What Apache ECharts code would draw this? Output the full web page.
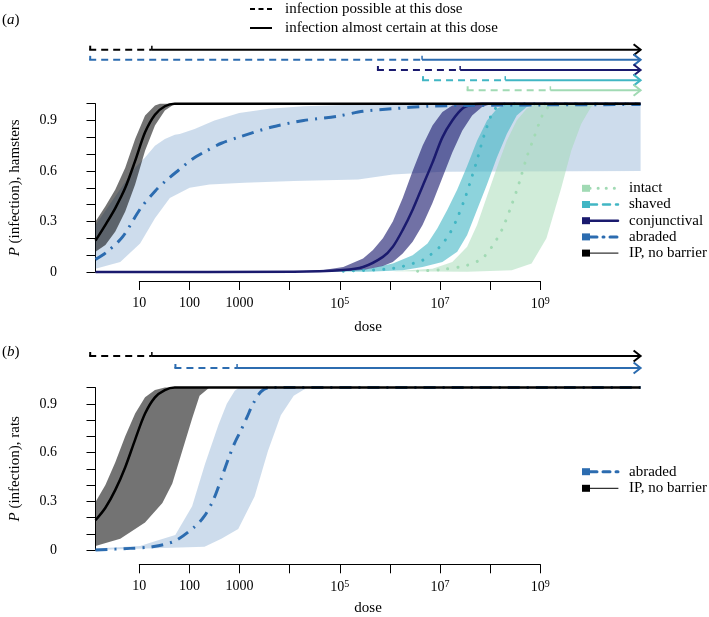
<!DOCTYPE html>
<html><head><meta charset="utf-8">
<script src="https://cdn.jsdelivr.net/npm/echarts@6/dist/echarts.min.js"></script>
<style>html,body{margin:0;padding:0;background:#fff}#c{width:709px;height:617px}</style>
</head><body><div id="c"></div>
<script>
// ---------- data (x = log10(dose)) ----------
var doseMax = 11;
var xTickLabels = ['10', '100', '1000', '', '10^5', '', '10^7', '', '10^9']; // at log10 dose 1..9
var yTickLabels = ['0', '0.3', '0.6', '0.9'];

// Panel (a) hamsters
var ipLineA = [[0,0.186],[0.2,0.28],[0.4,0.38],[0.6,0.50],[0.8,0.66],[1.0,0.83],[1.2,0.935],[1.4,0.985],[1.6,1],[11,1]];
var ipUpA = [[0,0.30],[0.2,0.39],[0.4,0.49],[0.6,0.62],[0.8,0.79],[1.0,0.93],[1.2,0.99],[1.3,1],[11,1]];
var ipLoA = [[0,0.12],[0.2,0.16],[0.4,0.24],[0.6,0.36],[0.8,0.52],[1.0,0.72],[1.2,0.87],[1.4,0.96],[1.6,1],[11,1]];

var abrLineA = [[0,0.075],[0.22,0.117],[0.55,0.21],[0.91,0.378],[1.21,0.483],[1.41,0.54],[1.68,0.606],[1.95,0.67],[2.21,0.715],[2.54,0.765],[2.88,0.80],[3.54,0.86],[4.2,0.90],[4.87,0.925],[5.4,0.955],[6.0,0.97],[6.7,0.985],[7.5,0.99],[9,0.993],[11,0.995]];
var abrUpA = [[0,0.28],[0.4,0.45],[0.8,0.62],[1.0,0.68],[1.2,0.75],[1.4,0.79],[1.6,0.815],[1.7,0.82],[2.0,0.85],[2.4,0.90],[2.9,0.945],[3.5,0.97],[4.2,0.985],[5,0.993],[6,0.995],[11,0.995]];
var abrLoA = [[0,0.02],[0.5,0.06],[0.9,0.17],[1.2,0.32],[1.5,0.44],[1.9,0.50],[2.3,0.52],[3,0.53],[4,0.54],[5.3,0.55],[6,0.58],[7,0.595],[11,0.60]];

var conjLineA = [[0,0],[4,0.002],[5.0,0.012],[5.4,0.03],[5.8,0.09],[6.0,0.15],[6.2,0.25],[6.4,0.37],[6.6,0.51],[6.8,0.65],[7.0,0.80],[7.2,0.90],[7.4,0.97],[7.6,0.995],[7.8,1],[11,1]];
var conjUpA = [[3.5,0],[4,0.003],[4.6,0.012],[5.0,0.03],[5.4,0.08],[5.6,0.13],[5.8,0.2],[6.0,0.3],[6.2,0.44],[6.4,0.6],[6.6,0.75],[6.8,0.87],[7.0,0.95],[7.2,0.99],[7.4,1],[11,1]];
var conjLoA = [[3.5,0],[5.0,0.005],[5.4,0.012],[5.8,0.035],[6.0,0.06],[6.2,0.11],[6.4,0.18],[6.6,0.28],[6.8,0.41],[7.0,0.56],[7.2,0.71],[7.4,0.84],[7.6,0.93],[7.8,0.98],[8.0,1],[11,1]];

var shavLineA = [[5.0,0.005],[5.6,0.012],[5.9,0.018],[6.15,0.03],[6.4,0.05],[6.6,0.07],[6.75,0.10],[6.95,0.15],[7.15,0.23],[7.3,0.32],[7.47,0.45],[7.6,0.57],[7.7,0.665],[7.77,0.74],[7.85,0.82],[7.92,0.88],[8.0,0.94],[8.1,0.98],[8.3,1],[11,1]];
var shavUpA = [[4.5,0.003],[5.5,0.02],[6.0,0.05],[6.4,0.1],[6.7,0.17],[6.9,0.26],[7.1,0.37],[7.3,0.49],[7.5,0.63],[7.7,0.78],[7.9,0.9],[8.1,0.97],[8.3,1],[11,1]];
var shavLoA = [[5.5,0.002],[6.2,0.01],[6.6,0.03],[7.0,0.06],[7.3,0.12],[7.5,0.22],[7.7,0.37],[7.9,0.52],[8.1,0.68],[8.3,0.82],[8.5,0.93],[8.7,0.98],[8.9,1],[11,1]];

var intLineA = [[6.5,0.005],[7.0,0.015],[7.5,0.04],[7.8,0.08],[8.0,0.15],[8.2,0.25],[8.4,0.4],[8.55,0.53],[8.7,0.68],[8.85,0.8],[9.0,0.92],[9.1,0.97],[9.3,1],[11,1]];
var intUpA = [[6.0,0.005],[6.8,0.02],[7.2,0.06],[7.5,0.15],[7.7,0.28],[7.9,0.45],[8.1,0.62],[8.3,0.78],[8.5,0.9],[8.7,0.97],[8.9,1],[11,1]];
var intLoA = [[7.5,0.002],[8.4,0.01],[8.8,0.05],[9.1,0.2],[9.4,0.5],[9.6,0.72],[9.8,0.88],[10.0,0.98],[10.1,1],[11,1]];

// arrows (a): [dashed start, solid start] in log10 dose, rows top->bottom
var arrowNamesA = ['IP, no barrier', 'abraded', 'conjunctival', 'shaved', 'intact'];
var arrowStartA = [0, 0, 5.74, 6.64, 7.53];
var arrowSolidA = [1.25, 6.64, 7.4, 8.3, 9.2];

// Panel (b) rats
var ipLineB = [[0,0.183],[0.2,0.26],[0.4,0.37],[0.6,0.51],[0.8,0.68],[1.0,0.84],[1.2,0.94],[1.4,0.985],[1.6,1],[11,1]];
var ipUpB = [[0,0.296],[0.2,0.40],[0.4,0.54],[0.6,0.70],[0.8,0.84],[1.0,0.94],[1.2,0.985],[1.4,1],[11,1]];
var ipLoB = [[0,0.024],[0.5,0.07],[1.0,0.17],[1.35,0.29],[1.55,0.41],[1.75,0.61],[1.95,0.81],[2.1,0.95],[2.3,1],[11,1]];
var abrLineB = [[0,0],[0.7,0.01],[1.15,0.02],[1.6,0.055],[2.0,0.143],[2.2,0.21],[2.38,0.31],[2.54,0.44],[2.68,0.56],[2.81,0.66],[2.94,0.74],[3.06,0.82],[3.18,0.9],[3.34,0.975],[3.5,1],[11,1]];
var abrUpB = [[0,0.01],[0.9,0.024],[1.2,0.054],[1.61,0.093],[1.95,0.27],[2.21,0.53],[2.48,0.77],[2.65,0.9],[2.81,0.98],[2.9,1],[11,1]];
var abrLoB = [[0,0],[2.2,0.02],[2.54,0.07],[2.88,0.13],[3.21,0.33],[3.48,0.61],[3.74,0.83],[4.0,0.95],[4.2,0.986],[4.3,1],[11,1]];

var arrowNamesB = ['IP, no barrier', 'abraded'];
var arrowStartB = [0, 1.7];
var arrowSolidB = [1.25, 2.95];

// ---------- styling ----------
var FONT = '"Liberation Serif","Times New Roman",serif';
var C = {ip:'#000000', abr:'#2c6cb0', conj:'#1a1a6e', shav:'#41b6c4', int:'#a1dab4'};
var BAND = {ip:'rgba(0,0,0,0.55)', abr:'rgba(44,108,176,0.24)', conj:'rgba(26,26,110,0.62)', shav:'rgba(65,182,196,0.6)', int:'rgba(161,218,180,0.5)'};
var arrowColor = {'IP, no barrier':C.ip, 'abraded':C.abr, 'conjunctival':C.conj, 'shaved':C.shav, 'intact':C.int};

var L = 89.2, W = 551.4;

function bandSeries(gi, up, lo, color, z) {
  return {type:'custom', xAxisIndex:gi, yAxisIndex:gi, silent:true, z:z, data:[0], clip:false,
    renderItem:function(params, api){
      var pts = [];
      for (var i=0;i<up.length;i++) pts.push(api.coord(up[i]));
      for (var j=lo.length-1;j>=0;j--) pts.push(api.coord(lo[j]));
      return {type:'polygon', shape:{points:pts}, style:{fill:color}};
    }};
}
function lineSeries(gi, data, color, width, dash, z, cap) {
  return {type:'line', xAxisIndex:gi, yAxisIndex:gi, data:data, showSymbol:false, silent:true, z:z,
    smooth:0.3, clip:false,
    lineStyle:{color:color, width:width, type:dash||'solid', cap:cap||'butt', join:'round'}};
}
function arrowSeries(gi, names, starts, solids) {
  var data = names.map(function(n,i){ return {value:[starts[i], solids[i], i+1, doseMax], itemStyle:{color:arrowColor[n]}}; });
  return {type:'custom', xAxisIndex:gi, yAxisIndex:gi, silent:true, clip:false, data:data,
    renderItem:function(params, api){
      var p0 = api.coord([api.value(0), api.value(2)]);
      var p1 = api.coord([api.value(1), api.value(2)]);
      var p2 = api.coord([api.value(3), api.value(2)]);
      var c = api.visual('color');
      return {type:'group', children:[
        {type:'line', shape:{x1:p0[0],y1:p0[1],x2:p1[0],y2:p1[1]}, style:{stroke:c,lineWidth:2,lineDash:[7,5]}},
        {type:'line', shape:{x1:p0[0]+1,y1:p0[1]-4,x2:p0[0]+1,y2:p0[1]}, style:{stroke:c,lineWidth:2}},
        {type:'line', shape:{x1:p1[0],y1:p1[1],x2:p2[0],y2:p2[1]}, style:{stroke:c,lineWidth:2}},
        {type:'line', shape:{x1:p1[0],y1:p1[1]-4,x2:p1[0],y2:p1[1]}, style:{stroke:c,lineWidth:1.5}},
        {type:'polyline', shape:{points:[[p2[0]-7,p2[1]-5.5],[p2[0],p2[1]],[p2[0]-7,p2[1]+5.5]]}, style:{stroke:c,lineWidth:2,fill:null}}
      ]};
    }};
}

function xDispAxis(gi) {
  return {gridIndex:gi, type:'value', min:1, max:9, interval:1, position:'bottom',
    axisLine:{show:true, onZero:false, lineStyle:{color:'#000', width:1}},
    axisTick:{show:true, length:9, lineStyle:{color:'#000', width:1}},
    splitLine:{show:false},
    axisLabel:{margin:15, fontFamily:FONT, fontSize:14, color:'#000',
      formatter:function(v){
        var s = xTickLabels[Math.round(v)-1] || '';
        if (s.indexOf('^')>0) { var p = s.split('^'); return '{b|'+p[0]+'}{s|'+p[1]+'}'; }
        return s ? '{b|'+s+'}' : '';
      },
      rich:{b:{fontFamily:FONT, fontSize:14, color:'#000'}, s:{fontFamily:FONT, fontSize:10, color:'#000', verticalAlign:'top', padding:[0,0,7,0]}}}
  };
}
function xDataAxis(gi, name, gap) {
  return {gridIndex:gi, type:'value', min:0, max:doseMax, axisLine:{show:false}, axisTick:{show:false},
    axisLabel:{show:false}, splitLine:{show:false},
    name:name, nameLocation:'middle', nameGap:gap, nameTextStyle:{fontFamily:FONT, fontSize:15, color:'#000'}};
}
function yDataAxis(gi, title) {
  return {gridIndex:gi, type:'value', min:0, max:1, interval:0.1, offset:21.5,
    axisLine:{show:true, lineStyle:{color:'#000', width:1}},
    axisTick:{show:true, length:9, lineStyle:{color:'#000'}},
    splitLine:{show:false},
    axisLabel:{margin:17, fontFamily:FONT, fontSize:14, color:'#000',
      formatter:function(v){ var s = String(+v.toFixed(1)); return yTickLabels.indexOf(s)>=0 ? s : ''; }},
    name:'{i|P} (infection), '+title, nameLocation:'middle', nameGap:51, nameRotate:90,
    nameTextStyle:{fontFamily:FONT, fontSize:15, color:'#000', rich:{i:{fontFamily:FONT, fontSize:15, fontStyle:'italic', color:'#000'}}}
  };
}
function hiddenAxis(gi, type, min, max, inverse) {
  return {gridIndex:gi, type:'value', min:min, max:max, inverse:!!inverse, show:false};
}

var rowH = 10.15;
var option = {
  animation:false,
  grid:[
    {left:L, top:103.7, width:W, height:168.3},
    {left:139.3, top:280, width:400.9, height:1},
    {left:L, top:49.7-rowH/2, width:W, height:rowH*5},
    {left:L, top:387.6, width:W, height:168.1},
    {left:139.3, top:563.3, width:400.9, height:1},
    {left:L, top:356-6, width:W, height:24}
  ],
  xAxis:[
    xDataAxis(0,'dose',48), xDispAxis(1), hiddenAxis(2,'x',0,doseMax),
    xDataAxis(3,'dose',51), xDispAxis(4), hiddenAxis(5,'x',0,doseMax)
  ],
  yAxis:[
    yDataAxis(0,'hamsters'), hiddenAxis(1,'y',0,1), hiddenAxis(2,'y',0.5,5.5,true),
    yDataAxis(3,'rats'), hiddenAxis(4,'y',0,1), hiddenAxis(5,'y',0.5,2.5,true)
  ],
  series:[
    bandSeries(0, abrUpA, abrLoA, BAND.abr, 1),
    bandSeries(0, intUpA, intLoA, BAND.int, 2),
    bandSeries(0, shavUpA, shavLoA, BAND.shav, 3),
    bandSeries(0, conjUpA, conjLoA, BAND.conj, 4),
    bandSeries(0, ipUpA, ipLoA, BAND.ip, 5),
    lineSeries(0, intLineA, C.int, 3, [0.1,10], 10, 'round'),
    lineSeries(0, shavLineA, C.shav, 3, [0.1,10], 11, 'round'),
    lineSeries(0, conjLineA, C.conj, 2.5, 'solid', 12),
    lineSeries(0, abrLineA, C.abr, 3, [12,7,2,7], 13),
    lineSeries(0, ipLineA, C.ip, 2.5, 'solid', 14),
    arrowSeries(2, arrowNamesA, arrowStartA, arrowSolidA),
    bandSeries(3, abrUpB, abrLoB, BAND.abr, 1),
    bandSeries(3, ipUpB, ipLoB, BAND.ip, 5),
    lineSeries(3, abrLineB, C.abr, 3, [12,7,2,7], 13),
    lineSeries(3, ipLineB, C.ip, 2.5, 'solid', 14),
    arrowSeries(5, arrowNamesB, arrowStartB, arrowSolidB)
  ],
  graphic:[]
};

// text / legends
var G = option.graphic;
function legItem(y, sq, lineColor, lw, dash, label) {
  G.push({type:'rect', shape:{x:582, y:y-3.5, width:8, height:7}, style:{fill:sq}});
  G.push({type:'line', shape:{x1:590, y1:y, x2:618, y2:y}, style:{stroke:lineColor, lineWidth:lw, lineDash:dash||null, lineCap:'round'}});
  G.push({type:'text', x:629, y:y, style:{text:label, fontFamily:FONT, fontSize:15, fill:'#000', verticalAlign:'middle'}});
}
G.push({type:'text', x:2, y:20, style:{text:'({i|a})', fontFamily:FONT, fontSize:15, fill:'#000', verticalAlign:'middle', rich:{i:{fontFamily:FONT, fontSize:15, fontStyle:'italic'}}}});
G.push({type:'text', x:2, y:352, style:{text:'({i|b})', fontFamily:FONT, fontSize:15, fill:'#000', verticalAlign:'middle', rich:{i:{fontFamily:FONT, fontSize:15, fontStyle:'italic'}}}});
G.push({type:'line', shape:{x1:250, y1:9, x2:272, y2:9}, style:{stroke:'#000', lineWidth:2, lineDash:[5,3.5]}});
G.push({type:'text', x:285, y:9, style:{text:'infection possible at this dose', fontFamily:FONT, fontSize:15, fill:'#000', verticalAlign:'middle'}});
G.push({type:'line', shape:{x1:250, y1:28, x2:272, y2:28}, style:{stroke:'#000', lineWidth:2}});
G.push({type:'text', x:285, y:28, style:{text:'infection almost certain at this dose', fontFamily:FONT, fontSize:15, fill:'#000', verticalAlign:'middle'}});

legItem(188.3, C.int, C.int, 3, [0.1,8], 'intact');
legItem(204.5, C.shav, C.shav, 2.5, [7,6], 'shaved');
legItem(220.7, C.conj, C.conj, 2.5, null, 'conjunctival');
legItem(236.9, C.abr, C.abr, 3, [7,6,1,6], 'abraded');
legItem(253.1, C.ip, C.ip, 1, null, 'IP, no barrier');
legItem(471.7, C.abr, C.abr, 3, [7,6], 'abraded');
legItem(488.3, C.ip, C.ip, 1, null, 'IP, no barrier');

var chart = echarts.init(document.getElementById('c'), null, {renderer:'canvas'});
chart.setOption(option);
</script></body></html>
